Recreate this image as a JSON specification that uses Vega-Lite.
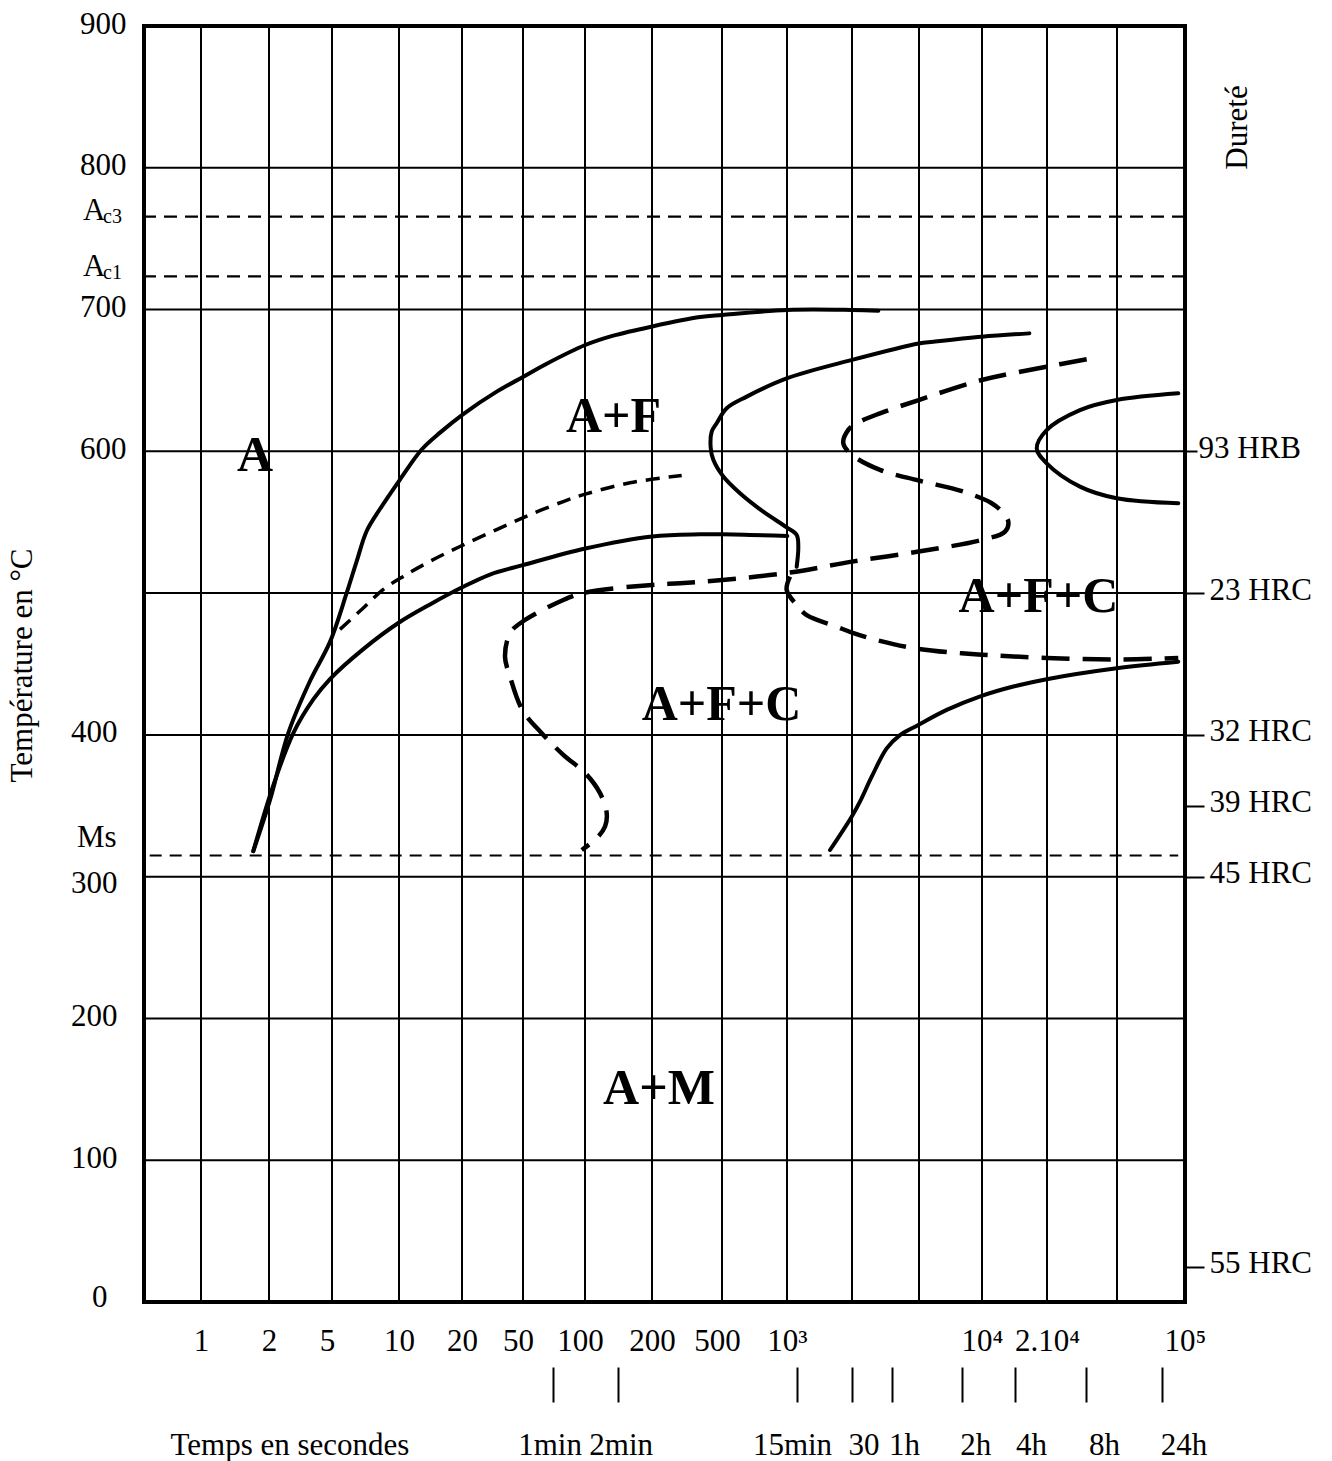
{
  "$schema": "https://vega.github.io/schema/vega-lite/v6.json",
  "width": 1041,
  "height": 1276,
  "autosize": {"type": "none"},
  "padding": {"left": 144, "top": 26, "right": 147, "bottom": 159},
  "background": "white",
  "config": {
    "view": {"stroke": "black", "strokeWidth": 4},
    "font": "Liberation Serif",
    "axis": {
      "labelFont": "Liberation Serif",
      "labelFontSize": 31,
      "labelColor": "black",
      "labelLimit": 0,
      "titleFont": "Liberation Serif",
      "titleFontSize": 31,
      "titleFontWeight": "normal",
      "titleColor": "black",
      "tickColor": "black",
      "domain": false,
      "grid": false,
      "labelFlush": false,
      "labelOverlap": false,
      "labelBound": false
    }
  },
  "datasets": {
    "curves": [
      {"c": "fs", "s": "solid", "i": 0, "x": 1.769, "t": 318},
      {"c": "fs", "s": "solid", "i": 1, "x": 2.016, "t": 354.1},
      {"c": "fs", "s": "solid", "i": 2, "x": 2.306, "t": 401.3},
      {"c": "fs", "s": "solid", "i": 3, "x": 2.651, "t": 438.0},
      {"c": "fs", "s": "solid", "i": 4, "x": 2.968, "t": 465.6},
      {"c": "fs", "s": "solid", "i": 5, "x": 3.219, "t": 500.1},
      {"c": "fs", "s": "solid", "i": 6, "x": 3.369, "t": 522.6},
      {"c": "fs", "s": "solid", "i": 7, "x": 3.518, "t": 543.8},
      {"c": "fs", "s": "solid", "i": 8, "x": 3.716, "t": 559.3},
      {"c": "fs", "s": "solid", "i": 9, "x": 4.016, "t": 580.1},
      {"c": "fs", "s": "solid", "i": 10, "x": 4.36, "t": 601.3},
      {"c": "fs", "s": "solid", "i": 11, "x": 4.651, "t": 613.2},
      {"c": "fs", "s": "solid", "i": 12, "x": 5.021, "t": 626.3},
      {"c": "fs", "s": "solid", "i": 13, "x": 5.569, "t": 642.1},
      {"c": "fs", "s": "solid", "i": 14, "x": 6.005, "t": 652.6},
      {"c": "fs", "s": "solid", "i": 15, "x": 6.382, "t": 661.8},
      {"c": "fs", "s": "solid", "i": 16, "x": 7.004, "t": 675.0},
      {"c": "fs", "s": "solid", "i": 17, "x": 7.422, "t": 681.6},
      {"c": "fs", "s": "solid", "i": 18, "x": 8.004, "t": 688.1},
      {"c": "fs", "s": "solid", "i": 19, "x": 8.686, "t": 694.7},
      {"c": "fs", "s": "solid", "i": 20, "x": 9.005, "t": 696.2},
      {"c": "fs", "s": "solid", "i": 21, "x": 10.005, "t": 699.7},
      {"c": "fs", "s": "solid", "i": 22, "x": 10.995, "t": 699.7},
      {"c": "fs", "s": "solid", "i": 23, "x": 11.393, "t": 699.2},

      {"c": "cs", "s": "solid", "i": 0, "x": 1.769, "t": 318},
      {"c": "cs", "s": "solid", "i": 1, "x": 2.068, "t": 364.4},
      {"c": "cs", "s": "solid", "i": 2, "x": 2.386, "t": 401.3},
      {"c": "cs", "s": "solid", "i": 3, "x": 2.703, "t": 425.0},
      {"c": "cs", "s": "solid", "i": 4, "x": 2.968, "t": 439.4},
      {"c": "cs", "s": "solid", "i": 5, "x": 3.467, "t": 460.5},
      {"c": "cs", "s": "solid", "i": 6, "x": 3.99, "t": 478.9},
      {"c": "cs", "s": "solid", "i": 7, "x": 4.492, "t": 492.0},
      {"c": "cs", "s": "solid", "i": 8, "x": 4.995, "t": 503.9},
      {"c": "cs", "s": "solid", "i": 9, "x": 5.459, "t": 513.1},
      {"c": "cs", "s": "solid", "i": 10, "x": 5.995, "t": 519.7},
      {"c": "cs", "s": "solid", "i": 11, "x": 7.004, "t": 531.5},
      {"c": "cs", "s": "solid", "i": 12, "x": 8.004, "t": 540.0},
      {"c": "cs", "s": "solid", "i": 13, "x": 8.686, "t": 541.5},
      {"c": "cs", "s": "solid", "i": 14, "x": 9.005, "t": 541.5},
      {"c": "cs", "s": "solid", "i": 15, "x": 10.005, "t": 540.3},

      {"c": "d1", "s": "short", "i": 0, "x": 3.119, "t": 474.4},
      {"c": "d1", "s": "short", "i": 1, "x": 3.467, "t": 489.5},
      {"c": "d1", "s": "short", "i": 2, "x": 3.766, "t": 502.6},
      {"c": "d1", "s": "short", "i": 3, "x": 4.068, "t": 511.8},
      {"c": "d1", "s": "short", "i": 4, "x": 4.492, "t": 522.4},
      {"c": "d1", "s": "short", "i": 5, "x": 4.968, "t": 532.9},
      {"c": "d1", "s": "short", "i": 6, "x": 5.569, "t": 544.8},
      {"c": "d1", "s": "short", "i": 7, "x": 6.113, "t": 555.3},
      {"c": "d1", "s": "short", "i": 8, "x": 6.65, "t": 564.6},
      {"c": "d1", "s": "short", "i": 9, "x": 7.004, "t": 569.8},
      {"c": "d1", "s": "short", "i": 10, "x": 7.672, "t": 577.8},
      {"c": "d1", "s": "short", "i": 11, "x": 8.424, "t": 583.0},

      {"c": "s3", "s": "solid", "i": 0, "x": 13.728, "t": 683.2},
      {"c": "s3", "s": "solid", "i": 1, "x": 12.995, "t": 680.8},
      {"c": "s3", "s": "solid", "i": 2, "x": 12.227, "t": 677.3},
      {"c": "s3", "s": "solid", "i": 3, "x": 11.996, "t": 676.1},
      {"c": "s3", "s": "solid", "i": 4, "x": 11.0, "t": 664.5},
      {"c": "s3", "s": "solid", "i": 5, "x": 10.005, "t": 651.6},
      {"c": "s3", "s": "solid", "i": 6, "x": 9.38, "t": 638.6},
      {"c": "s3", "s": "solid", "i": 7, "x": 9.072, "t": 630.4},
      {"c": "s3", "s": "solid", "i": 8, "x": 8.924, "t": 619.8},
      {"c": "s3", "s": "solid", "i": 9, "x": 8.853, "t": 613.9},
      {"c": "s3", "s": "solid", "i": 10, "x": 8.839, "t": 602.2},
      {"c": "s3", "s": "solid", "i": 11, "x": 8.876, "t": 594.0},
      {"c": "s3", "s": "solid", "i": 12, "x": 9.02, "t": 582.2},
      {"c": "s3", "s": "solid", "i": 13, "x": 9.277, "t": 570.4},
      {"c": "s3", "s": "solid", "i": 14, "x": 9.635, "t": 557.4},
      {"c": "s3", "s": "solid", "i": 15, "x": 9.995, "t": 546.4},
      {"c": "s3", "s": "solid", "i": 16, "x": 10.149, "t": 541.0},
      {"c": "s3", "s": "solid", "i": 17, "x": 10.174, "t": 532.7},
      {"c": "s3", "s": "solid", "i": 18, "x": 10.149, "t": 518.6},

      {"c": "l1", "s": "long", "i": 0, "x": 14.567, "t": 664.9},
      {"c": "l1", "s": "long", "i": 1, "x": 13.995, "t": 659.7},
      {"c": "l1", "s": "long", "i": 2, "x": 12.995, "t": 650.3},
      {"c": "l1", "s": "long", "i": 3, "x": 11.996, "t": 636.2},
      {"c": "l1", "s": "long", "i": 4, "x": 11.418, "t": 626.8},
      {"c": "l1", "s": "long", "i": 5, "x": 11.07, "t": 619.8},
      {"c": "l1", "s": "long", "i": 6, "x": 10.943, "t": 615.1},
      {"c": "l1", "s": "long", "i": 7, "x": 10.866, "t": 605.7},
      {"c": "l1", "s": "long", "i": 8, "x": 11.0, "t": 597.5},
      {"c": "l1", "s": "long", "i": 9, "x": 11.418, "t": 586.9},
      {"c": "l1", "s": "long", "i": 10, "x": 11.996, "t": 579.4},
      {"c": "l1", "s": "long", "i": 11, "x": 12.703, "t": 571.6},
      {"c": "l1", "s": "long", "i": 12, "x": 13.149, "t": 563.4},
      {"c": "l1", "s": "long", "i": 13, "x": 13.303, "t": 557.5},
      {"c": "l1", "s": "long", "i": 14, "x": 13.405, "t": 550.4},
      {"c": "l1", "s": "long", "i": 15, "x": 13.354, "t": 543.4},
      {"c": "l1", "s": "long", "i": 16, "x": 12.995, "t": 537.5},
      {"c": "l1", "s": "long", "i": 17, "x": 11.996, "t": 529.3},
      {"c": "l1", "s": "long", "i": 18, "x": 11.0, "t": 522.2},
      {"c": "l1", "s": "long", "i": 19, "x": 10.046, "t": 514.5},
      {"c": "l1", "s": "long", "i": 20, "x": 9.005, "t": 509.3},
      {"c": "l1", "s": "long", "i": 21, "x": 8.4, "t": 507.0},
      {"c": "l1", "s": "long", "i": 22, "x": 8.0, "t": 505.8},
      {"c": "l1", "s": "long", "i": 23, "x": 7.004, "t": 500.4},
      {"c": "l1", "s": "long", "i": 24, "x": 6.65, "t": 495.1},
      {"c": "l1", "s": "long", "i": 25, "x": 5.989, "t": 479.8},
      {"c": "l1", "s": "long", "i": 26, "x": 5.787, "t": 471.7},
      {"c": "l1", "s": "long", "i": 27, "x": 5.705, "t": 455.2},
      {"c": "l1", "s": "long", "i": 28, "x": 5.787, "t": 441.1},
      {"c": "l1", "s": "long", "i": 29, "x": 5.989, "t": 417.6},
      {"c": "l1", "s": "long", "i": 30, "x": 6.302, "t": 401.2},
      {"c": "l1", "s": "long", "i": 31, "x": 6.65, "t": 385.9},
      {"c": "l1", "s": "long", "i": 32, "x": 7.004, "t": 373.0},
      {"c": "l1", "s": "long", "i": 33, "x": 7.224, "t": 358.9},
      {"c": "l1", "s": "long", "i": 34, "x": 7.324, "t": 344.8},
      {"c": "l1", "s": "long", "i": 35, "x": 7.299, "t": 335.4},
      {"c": "l1", "s": "long", "i": 36, "x": 7.175, "t": 327.2},
      {"c": "l1", "s": "long", "i": 37, "x": 6.947, "t": 318.8},

      {"c": "l2", "s": "long", "i": 0, "x": 10.046, "t": 511.6},
      {"c": "l2", "s": "long", "i": 1, "x": 9.995, "t": 502.2},
      {"c": "l2", "s": "long", "i": 2, "x": 10.149, "t": 491.6},
      {"c": "l2", "s": "long", "i": 3, "x": 10.303, "t": 484.5},
      {"c": "l2", "s": "long", "i": 4, "x": 10.765, "t": 476.3},
      {"c": "l2", "s": "long", "i": 5, "x": 11.0, "t": 472.2},
      {"c": "l2", "s": "long", "i": 6, "x": 11.369, "t": 466.9},
      {"c": "l2", "s": "long", "i": 7, "x": 11.993, "t": 460.6},
      {"c": "l2", "s": "long", "i": 8, "x": 12.995, "t": 456.6},
      {"c": "l2", "s": "long", "i": 9, "x": 13.995, "t": 454.3},
      {"c": "l2", "s": "long", "i": 10, "x": 14.996, "t": 453.1},
      {"c": "l2", "s": "long", "i": 11, "x": 15.901, "t": 454.3},

      {"c": "s4", "s": "solid", "i": 0, "x": 15.901, "t": 640.9},
      {"c": "s4", "s": "solid", "i": 1, "x": 14.996, "t": 636.2},
      {"c": "s4", "s": "solid", "i": 2, "x": 14.471, "t": 629.1},
      {"c": "s4", "s": "solid", "i": 3, "x": 13.995, "t": 615.0},
      {"c": "s4", "s": "solid", "i": 4, "x": 13.842, "t": 602.1},
      {"c": "s4", "s": "solid", "i": 5, "x": 13.995, "t": 591.5},
      {"c": "s4", "s": "solid", "i": 6, "x": 14.471, "t": 575.1},
      {"c": "s4", "s": "solid", "i": 7, "x": 14.996, "t": 566.9},
      {"c": "s4", "s": "solid", "i": 8, "x": 15.901, "t": 563.4},

      {"c": "s5", "s": "solid", "i": 0, "x": 10.662, "t": 318.8},
      {"c": "s5", "s": "solid", "i": 1, "x": 10.995, "t": 342.3},
      {"c": "s5", "s": "solid", "i": 2, "x": 11.119, "t": 352.9},
      {"c": "s5", "s": "solid", "i": 3, "x": 11.294, "t": 370.5},
      {"c": "s5", "s": "solid", "i": 4, "x": 11.518, "t": 390.5},
      {"c": "s5", "s": "solid", "i": 5, "x": 11.716, "t": 399.9},
      {"c": "s5", "s": "solid", "i": 6, "x": 11.99, "t": 407.0},
      {"c": "s5", "s": "solid", "i": 7, "x": 12.44, "t": 417.6},
      {"c": "s5", "s": "solid", "i": 8, "x": 12.995, "t": 427.5},
      {"c": "s5", "s": "solid", "i": 9, "x": 13.482, "t": 434.1},
      {"c": "s5", "s": "solid", "i": 10, "x": 13.995, "t": 439.3},
      {"c": "s5", "s": "solid", "i": 11, "x": 14.996, "t": 447.0},
      {"c": "s5", "s": "solid", "i": 12, "x": 15.901, "t": 451.6}
    ],
    "columns": [
      {"x": 1}, {"x": 2}, {"x": 3}, {"x": 4}, {"x": 5}, {"x": 6}, {"x": 7}, {"x": 8},
      {"x": 9}, {"x": 10}, {"x": 11}, {"x": 12}, {"x": 13}, {"x": 14}, {"x": 15}
    ],
    "rows": [
      {"t": 100}, {"t": 200}, {"t": 300}, {"t": 400}, {"t": 500}, {"t": 600}, {"t": 700}, {"t": 800}
    ],
    "critical": [
      {"name": "Ac3", "t": 765.5},
      {"name": "Ac1", "t": 723.4},
      {"name": "Ms", "t": 315}
    ],
    "criticalLabels": [
      {"lab": "A", "sub": "c3", "x": -1.07, "t": 769.5},
      {"lab": "A", "sub": "c1", "x": -1.07, "t": 729.7},
      {"lab": "Ms", "sub": "", "x": -1.175, "t": 327.6}
    ],
    "phases": [
      {"label": "A", "x": 1.794, "t": 596.7},
      {"label": "A+F", "x": 7.425, "t": 624.2},
      {"label": "A+F+C", "x": 8.993, "t": 421.1},
      {"label": "A+F+C", "x": 13.869, "t": 497.6},
      {"label": "A+M", "x": 8.1, "t": 150.2}
    ]
  },
  "resolve": {"axis": {"x": "independent", "y": "independent"}},
  "layer": [
    {
      "data": {"name": "columns"},
      "mark": {"type": "rule", "stroke": "black", "strokeWidth": 2},
      "encoding": {
        "x": {
          "field": "x",
          "type": "quantitative",
          "scale": {
            "domain": [0, 1, 2, 3, 4, 5, 6, 7, 8, 9, 10, 11, 12, 13, 14, 15, 16],
            "range": [0, 57, 125, 188, 255, 318, 379, 441, 508, 578, 643, 708, 775, 838, 903, 973, 1041],
            "nice": false,
            "zero": false
          },
          "axis": {
            "orient": "bottom",
            "title": null,
            "values": [1, 2, 3, 4, 5, 6, 7, 8, 9, 10, 13, 14, 16],
            "labelExpr": "['','1','2','5','10','20','50','100','200','500','10³','','','10⁴','2.10⁴','','10⁵'][datum.value]",
            "labelOffset": {"condition": {"test": "indexof([3,6,7,9], datum.value) >= 0", "value": -5}, "value": 0},
            "ticks": false,
            "tickSize": 0,
            "labelPadding": 24
          }
        }
      }
    },
    {
      "data": {"name": "rows"},
      "mark": {"type": "rule", "stroke": "black", "strokeWidth": 2},
      "encoding": {
        "y": {
          "field": "t",
          "type": "quantitative",
          "scale": {"domain": [0, 900], "nice": false, "zero": true},
          "axis": {
            "orient": "left",
            "values": [600, 700, 800, 900],
            "ticks": false,
            "tickSize": 0,
            "labelPadding": 18,
            "labelOffset": -2,
            "title": "Température en °C",
            "titleAngle": 270,
            "titleAlign": "center",
            "titleBaseline": "middle",
            "titleX": -122,
            "titleY": 639
          }
        }
      }
    },
    {
      "data": {"name": "critical"},
      "transform": [{"filter": "datum.name != 'Ms'"}],
      "mark": {"type": "rule", "stroke": "black", "strokeWidth": 2.2, "strokeDash": [13, 8]},
      "encoding": {
        "y": {
          "field": "t",
          "type": "quantitative",
          "axis": {
            "orient": "left",
            "values": [100, 200, 300, 400],
            "ticks": false,
            "tickSize": 0,
            "labelPadding": 27,
            "labelOffset": {"condition": {"test": "datum.value == 300", "value": 7}, "value": -2},
            "title": null
          }
        }
      }
    },
    {
      "data": {"name": "critical"},
      "transform": [{"filter": "datum.name == 'Ms'"}],
      "mark": {"type": "rule", "stroke": "black", "strokeWidth": 2, "strokeDash": [12, 8]},
      "encoding": {
        "x": {"datum": 0.1, "axis": null},
        "x2": {"datum": 15.9},
        "y": {
          "field": "t",
          "type": "quantitative",
          "axis": {
            "orient": "left",
            "values": [0],
            "ticks": false,
            "tickSize": 0,
            "labelPadding": 37,
            "labelOffset": -5,
            "title": null
          }
        }
      }
    },
    {
      "data": {"name": "curves"},
      "transform": [{"filter": "datum.s == 'solid'"}],
      "mark": {"type": "line", "stroke": "black", "strokeWidth": 4, "interpolate": "catmull-rom", "strokeCap": "round"},
      "encoding": {
        "x": {
          "field": "x",
          "type": "quantitative",
          "axis": {
            "orient": "bottom",
            "title": null,
            "values": [6.484, 7.493, 10.158, 10.995, 11.596, 12.689, 13.509, 14.563, 15.657],
            "labels": false,
            "ticks": true,
            "tickSize": 35,
            "tickWidth": 2,
            "offset": 65
          }
        },
        "y": {
          "field": "t",
          "type": "quantitative",
          "axis": {
            "orient": "right",
            "values": [500, 400, 350, 300, 25],
            "labelExpr": "datum.value == 500 ? '23 HRC' : datum.value == 400 ? '32 HRC' : datum.value == 350 ? '39 HRC' : datum.value == 300 ? '45 HRC' : '55 HRC'",
            "ticks": true,
            "tickSize": 19,
            "tickWidth": 2,
            "labelPadding": 5,
            "labelOffset": -3,
            "title": "Dureté",
            "titleAngle": 270,
            "titleAlign": "center",
            "titleBaseline": "middle",
            "titleX": 52,
            "titleY": 101
          }
        },
        "detail": {"field": "c"},
        "order": {"field": "i", "type": "quantitative"}
      }
    },
    {
      "data": {"name": "curves"},
      "transform": [{"filter": "datum.s == 'long'"}],
      "mark": {"type": "line", "stroke": "black", "strokeWidth": 4.5, "strokeDash": [28, 13], "interpolate": "catmull-rom"},
      "encoding": {
        "x": {"field": "x", "type": "quantitative", "axis": null},
        "y": {
          "field": "t",
          "type": "quantitative",
          "axis": {
            "orient": "right",
            "values": [600],
            "labelExpr": "'93 HRB'",
            "ticks": true,
            "tickSize": 12,
            "tickWidth": 2,
            "labelPadding": 1,
            "labelOffset": -3,
            "title": null
          }
        },
        "detail": {"field": "c"},
        "order": {"field": "i", "type": "quantitative"}
      }
    },
    {
      "data": {"name": "curves"},
      "transform": [{"filter": "datum.s == 'short'"}],
      "mark": {"type": "line", "stroke": "black", "strokeWidth": 3.5, "strokeDash": [14, 9], "interpolate": "catmull-rom"},
      "encoding": {
        "x": {"field": "x", "type": "quantitative", "axis": null},
        "y": {"field": "t", "type": "quantitative", "axis": null},
        "detail": {"field": "c"},
        "order": {"field": "i", "type": "quantitative"}
      }
    },
    {
      "data": {"name": "phases"},
      "mark": {"type": "text", "font": "Liberation Serif", "fontWeight": "bold", "fontSize": 50, "align": "center", "baseline": "middle", "color": "black"},
      "encoding": {
        "x": {
          "field": "x",
          "type": "quantitative",
          "axis": {
            "orient": "bottom",
            "title": null,
            "values": [2.325, 6.429, 7.533, 10.077, 11.17, 11.776, 12.894, 13.754, 14.814, 15.978],
            "labelExpr": "['Temps en secondes','1min','2min','15min','30','1h','2h','4h','8h','24h'][indexof([2.325, 6.429, 7.533, 10.077, 11.17, 11.776, 12.894, 13.754, 14.814, 15.978], datum.value)]",
            "ticks": false,
            "tickSize": 0,
            "labelPadding": 0,
            "offset": 128
          }
        },
        "y": {"field": "t", "type": "quantitative", "axis": null},
        "text": {"field": "label"}
      }
    },
    {
      "data": {"name": "criticalLabels"},
      "mark": {"type": "text", "font": "Liberation Serif", "fontSize": 31, "align": "left", "baseline": "middle", "color": "black"},
      "encoding": {
        "x": {"field": "x", "type": "quantitative", "axis": null},
        "y": {"field": "t", "type": "quantitative", "axis": null},
        "text": {"field": "lab"}
      }
    },
    {
      "data": {"name": "criticalLabels"},
      "transform": [{"filter": "datum.sub != ''"}],
      "mark": {"type": "text", "font": "Liberation Serif", "fontSize": 20, "align": "left", "baseline": "middle", "color": "black", "dx": 20, "dy": 6},
      "encoding": {
        "x": {"field": "x", "type": "quantitative", "axis": null},
        "y": {"field": "t", "type": "quantitative", "axis": null},
        "text": {"field": "sub"}
      }
    }
  ]
}
